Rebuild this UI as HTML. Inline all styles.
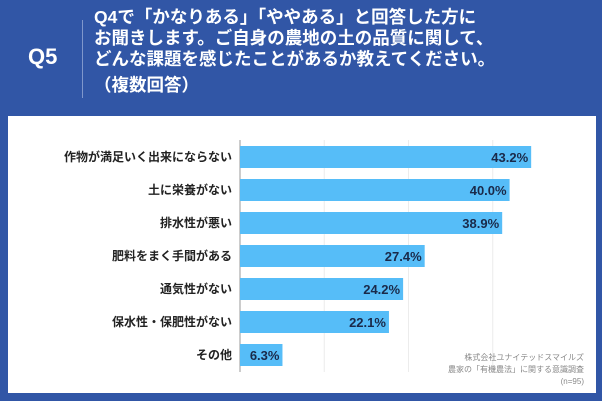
<!DOCTYPE html>
<html><head><meta charset="utf-8"><style>
body{margin:0;width:602px;height:401px;background:#3156a6;overflow:hidden;font-family:"Liberation Sans","Noto Sans CJK JP",sans-serif;position:relative}
.q5{position:absolute;left:28px;top:44px;color:#fff;font-weight:bold;font-size:22px}
.div{position:absolute;left:82px;top:20px;width:1px;height:78px;background:#7f97cc}
.title{position:absolute;left:94px;top:7px;color:#fff;font-weight:bold;font-size:17.5px;line-height:21px;white-space:nowrap}
.title .l4{display:block;margin-top:5px}
.panel{position:absolute;left:8px;top:116px;width:588px;height:277px;background:#fff}
.src{position:absolute;right:18px;top:352px;font-size:8px;line-height:12px;color:#888;text-align:right}
</style></head><body>
<div class="q5">Q5</div>
<div class="div"></div>
<div class="title">Q4で「かなりある」「ややある」と回答した方に<br>お聞きします。ご自身の農地の土の品質に関して、<br>どんな課題を感じたことがあるか教えてください。<span class="l4">（複数回答）</span></div>
<div class="panel"></div>
<svg id="chart" width="602" height="401" style="position:absolute;left:0;top:0"></svg>
<div class="src">株式会社ユナイテッドスマイルズ<br>農家の「有機農法」に関する意識調査<br>(n=95)</div>
<script>
const categories=["作物が満足いく出来にならない","土に栄養がない","排水性が悪い","肥料をまく手間がある","通気性がない","保水性・保肥性がない","その他"];
const values=[43.2,40.0,38.9,27.4,24.2,22.1,6.3];
const gridTicks=[12.5,25,37.5];
const svg=document.getElementById('chart');const NS='http://www.w3.org/2000/svg';
const x0=240,scale=6.74,y0=146,step=33,bh=22;
const xs=v=>x0+v*scale;const ys=i=>y0+i*step;
function mk(t,a){const e=document.createElementNS(NS,t);for(const k in a)e.setAttribute(k,a[k]);svg.appendChild(e);return e;}
gridTicks.forEach(t=>{const l=mk('line',{x1:xs(t),x2:xs(t),y1:140,y2:372,stroke:'#ececec','stroke-width':1});

});
const ax=mk('line',{x1:x0,x2:x0,y1:140,y2:372,stroke:'#999','stroke-width':1});


categories.forEach((c,i)=>{
const r=mk('rect',{x:x0,y:ys(i),width:xs(values[i])-x0,height:bh,fill:'#56bdf8'});


const lb=mk('text',{x:232,y:ys(i)+bh/2+4,'text-anchor':'end','font-size':12,'font-weight':'bold',fill:'#222'});lb.textContent=c;


const v=mk('text',{x:xs(values[i])-3,y:ys(i)+bh/2+5,'text-anchor':'end','font-size':13,'font-weight':'bold',fill:'#1a2a4a'});v.textContent=values[i].toFixed(1)+'%';


});
</script>
</body></html>
